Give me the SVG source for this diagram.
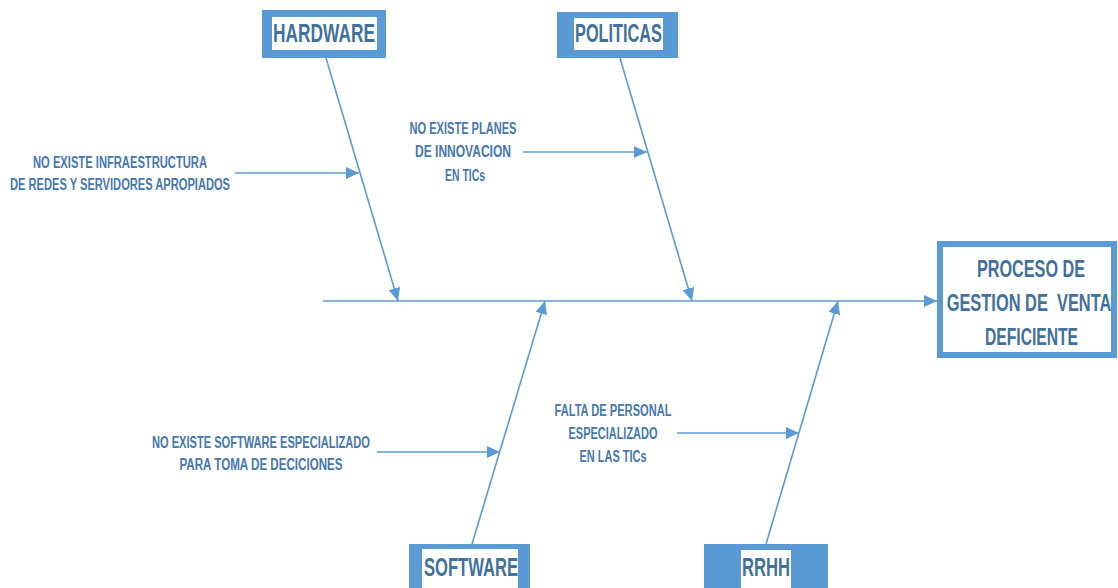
<svg xmlns="http://www.w3.org/2000/svg" width="1118" height="588" viewBox="0 0 1118 588">
  <style>
    .frame { fill: #5B9BD5; }
    .pad { fill: #FFFFFF; }
    .line { stroke: #5B9BD5; stroke-width: 1.6; fill: none; }
    .head { font-family: "Liberation Sans", Arial, sans-serif; font-weight: bold; font-size: 25px; fill: #41719C; text-anchor: middle; }
    .eff { font-family: "Liberation Sans", Arial, sans-serif; font-weight: bold; font-size: 23px; fill: #41719C; text-anchor: middle; }
    .lbl { font-family: "Liberation Sans", Arial, sans-serif; font-weight: bold; font-size: 16px; fill: #4677B0; text-anchor: middle; }
  </style>
  <defs>
    <marker id="arrow" markerUnits="userSpaceOnUse" markerWidth="14" markerHeight="12" refX="13" refY="6" orient="auto">
      <path d="M0,0 L13,6 L0,12 Z" fill="#5B9BD5"/>
    </marker>
  </defs>

  <rect width="1118" height="588" fill="#FFFFFF"/>

  <!-- connectors: spine, bones and cause arrows -->
  <g id="connectors">
    <line class="line" x1="323" y1="301" x2="937" y2="301" marker-end="url(#arrow)"/>
    <line class="line" x1="326" y1="58" x2="398" y2="301" marker-end="url(#arrow)"/>
    <line class="line" x1="620" y1="58" x2="692" y2="301" marker-end="url(#arrow)"/>
    <line class="line" x1="472" y1="544" x2="545" y2="301" marker-end="url(#arrow)"/>
    <line class="line" x1="766" y1="544" x2="838" y2="301" marker-end="url(#arrow)"/>
    <line class="line" x1="235" y1="173" x2="359" y2="173" marker-end="url(#arrow)"/>
    <line class="line" x1="523" y1="152" x2="647" y2="152" marker-end="url(#arrow)"/>
    <line class="line" x1="377" y1="452" x2="500" y2="452" marker-end="url(#arrow)"/>
    <line class="line" x1="677" y1="433" x2="799" y2="433" marker-end="url(#arrow)"/>
  </g>

  <!-- category headers -->
  <g id="hardware">
    <rect class="frame" x="262" y="10" width="124" height="48"/>
    <rect class="pad" x="272" y="17" width="105" height="33"/>
    <text class="head" x="324" y="42" textLength="102" lengthAdjust="spacingAndGlyphs">HARDWARE</text>
  </g>
  <g id="politicas">
    <rect class="frame" x="557" y="12" width="121" height="46"/>
    <rect class="pad" x="574" y="18" width="89" height="32"/>
    <text class="head" x="618.5" y="42" textLength="87" lengthAdjust="spacingAndGlyphs">POLITICAS</text>
  </g>
  <g id="software">
    <rect class="frame" x="409" y="544" width="121" height="46"/>
    <rect class="pad" x="422" y="549" width="96" height="41"/>
    <text class="head" x="471" y="576" textLength="94" lengthAdjust="spacingAndGlyphs">SOFTWARE</text>
  </g>
  <g id="rrhh">
    <rect class="frame" x="704" y="544" width="124" height="46"/>
    <rect class="pad" x="741" y="550" width="50" height="40"/>
    <text class="head" x="766" y="576" textLength="48" lengthAdjust="spacingAndGlyphs">RRHH</text>
  </g>

  <!-- effect: condensed lines drawn with a horizontal squeeze -->
  <g id="effect">
    <rect x="940" y="244" width="174" height="111" fill="#FFFFFF" stroke="#5B9BD5" stroke-width="6"/>
    <text class="eff" transform="translate(1031,277) scale(0.704,1)">PROCESO DE</text>
    <text class="eff" transform="translate(1029,311) scale(0.714,1)" xml:space="preserve">GESTION DE  VENTA</text>
    <text class="eff" transform="translate(1031.5,345) scale(0.68,1)">DEFICIENTE</text>
  </g>

  <!-- causes -->
  <g id="cause-hardware">
    <text class="lbl" x="120" y="168" textLength="174" lengthAdjust="spacingAndGlyphs">NO EXISTE INFRAESTRUCTURA</text>
    <text class="lbl" x="120" y="190" textLength="220" lengthAdjust="spacingAndGlyphs">DE REDES Y SERVIDORES APROPIADOS</text>
  </g>
  <g id="cause-politicas">
    <text class="lbl" x="463" y="134" textLength="107" lengthAdjust="spacingAndGlyphs">NO EXISTE PLANES</text>
    <text class="lbl" x="463" y="157" textLength="96" lengthAdjust="spacingAndGlyphs">DE INNOVACION</text>
    <text class="lbl" x="465" y="181" textLength="40" lengthAdjust="spacingAndGlyphs">EN TICs</text>
  </g>
  <g id="cause-software">
    <text class="lbl" x="261" y="448" textLength="218" lengthAdjust="spacingAndGlyphs">NO EXISTE SOFTWARE ESPECIALIZADO</text>
    <text class="lbl" x="261" y="470" textLength="163" lengthAdjust="spacingAndGlyphs">PARA TOMA DE DECICIONES</text>
  </g>
  <g id="cause-rrhh">
    <text class="lbl" x="613" y="416" textLength="117" lengthAdjust="spacingAndGlyphs">FALTA DE PERSONAL</text>
    <text class="lbl" x="613" y="439" textLength="89" lengthAdjust="spacingAndGlyphs">ESPECIALIZADO</text>
    <text class="lbl" x="613" y="462" textLength="67" lengthAdjust="spacingAndGlyphs">EN LAS TICs</text>
  </g>
</svg>
